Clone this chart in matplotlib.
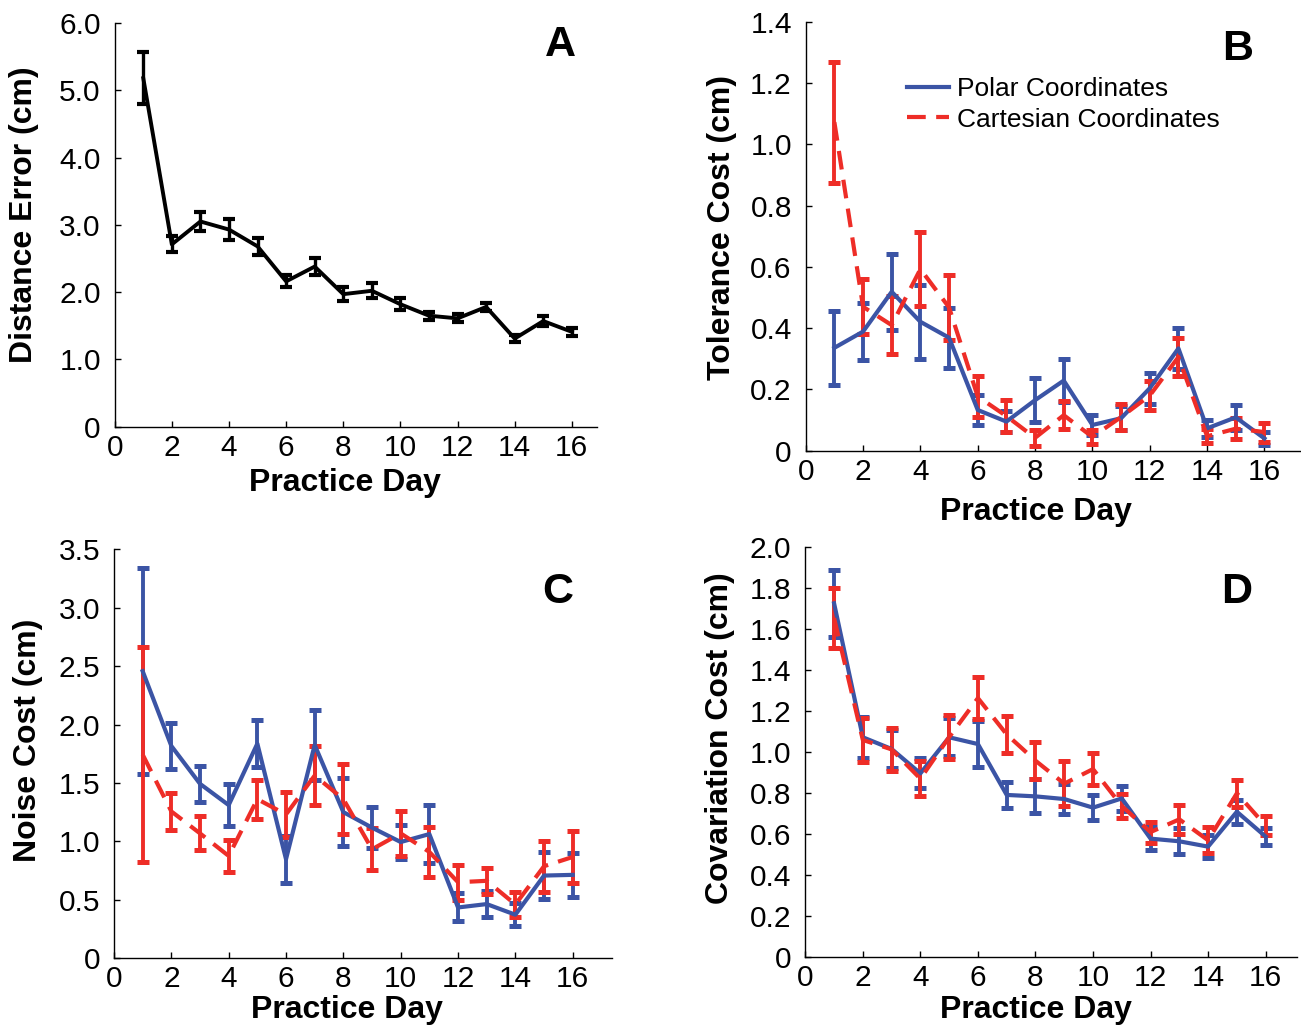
import matplotlib
matplotlib.use("Agg")
import matplotlib.pyplot as plt
from matplotlib.lines import Line2D
import numpy as np

plt.rcParams['font.family'] = ['Liberation Sans', 'DejaVu Sans']

days = list(range(1, 17))

# Panel A: distance error
distA = [5.18, 2.71, 3.05, 2.93, 2.68, 2.16, 2.38, 1.97, 2.02, 1.82, 1.65, 1.61, 1.78, 1.31, 1.57, 1.41]
distA_err = [0.39, 0.12, 0.14, 0.16, 0.13, 0.09, 0.12, 0.10, 0.11, 0.09, 0.06, 0.06, 0.065, 0.05, 0.07, 0.06]

# Panel B: tolerance cost
tolP = [0.336, 0.389, 0.519, 0.421, 0.369, 0.133, 0.095, 0.165, 0.229, 0.084, 0.106, 0.204, 0.334, 0.073, 0.109, 0.040]
tolP_err = [0.121, 0.093, 0.124, 0.121, 0.098, 0.05, 0.035, 0.072, 0.07, 0.034, 0.04, 0.05, 0.066, 0.027, 0.04, 0.02]
tolC = [1.073, 0.47, 0.41, 0.593, 0.468, 0.177, 0.113, 0.042, 0.116, 0.045, 0.11, 0.18, 0.306, 0.047, 0.072, 0.061]
tolC_err = [0.198, 0.09, 0.094, 0.121, 0.107, 0.066, 0.052, 0.027, 0.046, 0.023, 0.042, 0.046, 0.062, 0.023, 0.034, 0.031]

# Panel C: noise cost
noiP = [2.457, 1.817, 1.493, 1.311, 1.837, 0.848, 1.826, 1.251, 1.118, 0.995, 1.063, 0.435, 0.464, 0.373, 0.708, 0.714]
noiP_err = [0.879, 0.193, 0.156, 0.178, 0.2, 0.2, 0.3, 0.293, 0.178, 0.142, 0.246, 0.12, 0.11, 0.1, 0.2, 0.19]
noiC = [1.743, 1.257, 1.069, 0.876, 1.362, 1.231, 1.564, 1.362, 0.933, 1.069, 0.91, 0.651, 0.663, 0.461, 0.788, 0.867]
noiC_err = [0.917, 0.156, 0.145, 0.14, 0.166, 0.19, 0.25, 0.3, 0.18, 0.19, 0.21, 0.15, 0.11, 0.11, 0.22, 0.22]

# Panel D: covariation cost
covP = [1.724, 1.071, 1.014, 0.895, 1.071, 1.038, 0.79, 0.783, 0.77, 0.728, 0.773, 0.577, 0.564, 0.538, 0.708, 0.587]
covP_err = [0.162, 0.1, 0.093, 0.073, 0.093, 0.11, 0.064, 0.083, 0.073, 0.06, 0.06, 0.055, 0.063, 0.057, 0.058, 0.04]
covC = [1.652, 1.058, 1.012, 0.869, 1.072, 1.262, 1.085, 0.957, 0.845, 0.916, 0.736, 0.609, 0.671, 0.569, 0.798, 0.64]
covC_err = [0.148, 0.106, 0.106, 0.084, 0.108, 0.104, 0.09, 0.09, 0.108, 0.077, 0.059, 0.051, 0.07, 0.063, 0.065, 0.045]

series_labels = ['Polar Coordinates', 'Cartesian Coordinates']

BLUE = '#3b54a5'
RED = '#ee2d27'
DASH = (0, (4.5, 2.5))

W, H = 1301, 1027
fig = plt.figure(figsize=(W / 100, H / 100), dpi=100)


def px_axes(l, t, r, b):
    return fig.add_axes([l / W, 1 - b / H, (r - l) / W, (b - t) / H])


def style(ax, xmax, ymax, ystep, ylabel, letter, letter_xy, ylab_px, ylab_py, xlab_pxy, axbox):
    l, t, r, b = axbox
    ax.set_xlim(0, xmax)
    ax.set_ylim(0, ymax)
    ax.set_xticks(np.arange(0, 17, 2))
    yt = np.round(np.arange(0, ymax + 1e-9, ystep), 3)
    ax.set_yticks(yt)
    ax.set_yticklabels(['0' if v == 0 else '{:.1f}'.format(v) for v in yt])
    for s in ['top', 'right']:
        ax.spines[s].set_visible(False)
    for s in ['left', 'bottom']:
        ax.spines[s].set_linewidth(1.0)
    ax.tick_params(direction='in', length=4, width=1.0, labelsize=21.5)
    ax.tick_params(axis='y', pad=10)
    ax.tick_params(axis='x', pad=5)
    ax.set_xlabel('Practice Day', fontsize=23, fontweight='bold')
    xlx, xly = xlab_pxy
    ax.xaxis.set_label_coords((xlx - l) / (r - l), -(xly - b) / (b - t))
    ax.xaxis.label.set_verticalalignment('center')
    ax.set_ylabel(ylabel, fontsize=23, fontweight='bold')
    ax.yaxis.label.set_verticalalignment('center')
    ax.yaxis.set_label_coords((ylab_px - l) / (r - l), (b - ylab_py) / (b - t))
    lx, ly = letter_xy
    ax.text((lx - l) / (r - l), (b - ly) / (b - t), letter, transform=ax.transAxes,
            fontsize=31, fontweight='bold', ha='center', va='baseline')


def eb(ax, y, e, color, ls):
    ax.errorbar(days, y, yerr=e, color=color, lw=3.0, linestyle=ls,
                elinewidth=2.8, capsize=4, capthick=3.6, zorder=3)


# A
boxA = (114.7, 23, 596.7, 426.7)
axA = px_axes(*boxA)
axA.errorbar(days, distA, yerr=distA_err, color='black', lw=2.8, elinewidth=2.4,
             capsize=4, capthick=3.0)
style(axA, 16.87, 6.0, 1.0, 'Distance Error (cm)', 'A', (560, 56), 24, 215, (345, 483), boxA)

# B
boxB = (805.7, 22, 1300, 450.7)
axB = px_axes(*boxB)
eb(axB, tolP, tolP_err, BLUE, '-')
eb(axB, tolC, tolC_err, RED, DASH)
style(axB, 17.24, 1.4, 0.2, 'Tolerance Cost (cm)', 'B', (1238, 60), 722, 228, (1036, 512), boxB)
hP = Line2D([], [], color=BLUE, lw=3.0)
hC = Line2D([], [], color=RED, lw=3.0, linestyle=DASH)
axB.legend([hP, hC], series_labels, frameon=False,
           fontsize=19, loc='upper left',
           bbox_to_anchor=((907 - 805.7) / 494.3, (450.7 - 77) / 428.7),
           handlelength=1.6, handletextpad=0.3, labelspacing=0.25, borderaxespad=0, borderpad=0)

# C
boxC = (114, 549.3, 611.7, 958.3)
axC = px_axes(*boxC)
eb(axC, noiP, noiP_err, BLUE, '-')
eb(axC, noiC, noiC_err, RED, DASH)
style(axC, 17.36, 3.5, 0.5, 'Noise Cost (cm)', 'C', (558, 603), 28, 740, (347, 1010), boxC)

# D
boxD = (805.3, 546.7, 1297, 957)
axD = px_axes(*boxD)
eb(axD, covP, covP_err, BLUE, '-')
eb(axD, covC, covC_err, RED, DASH)
style(axD, 17.09, 2.0, 0.2, 'Covariation Cost (cm)', 'D', (1237, 603), 720, 738, (1036, 1010), boxD)

fig.savefig('out.png', dpi=100)
